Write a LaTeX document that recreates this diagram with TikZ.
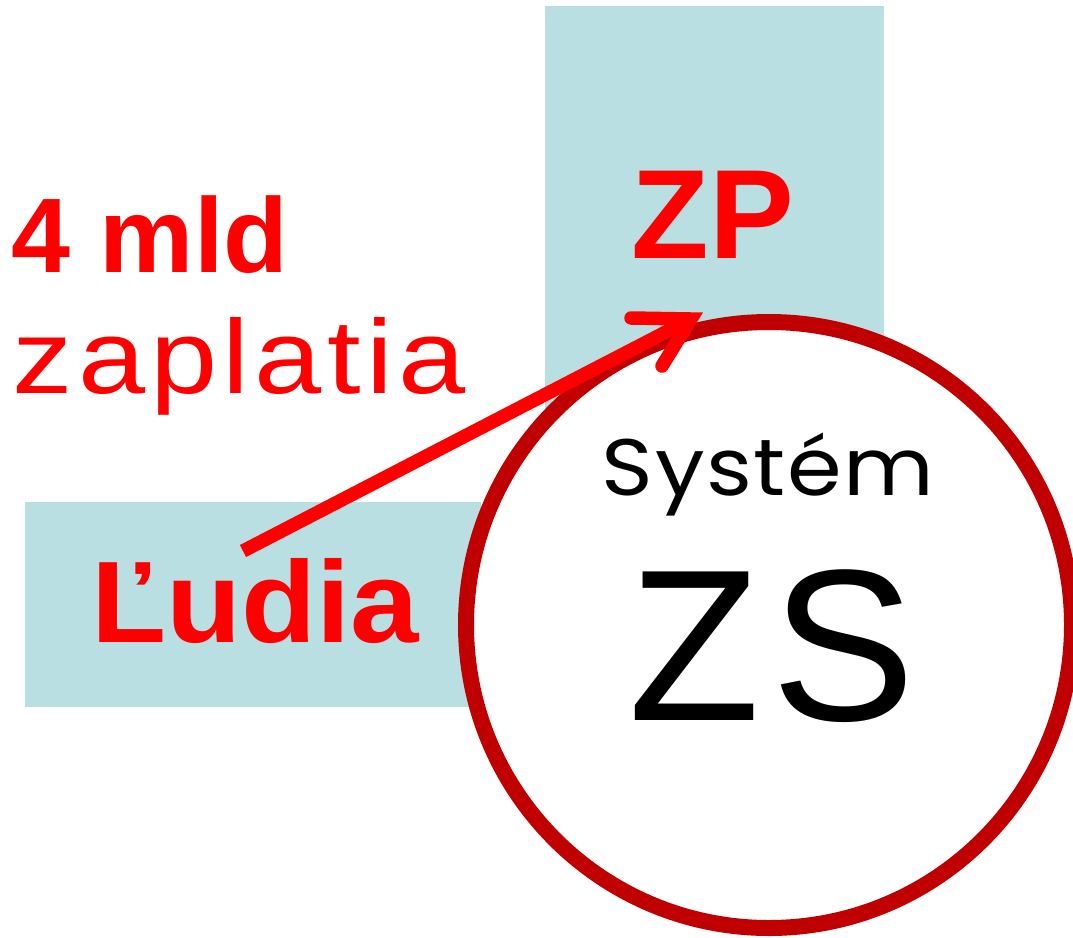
\documentclass[tikz,border=0pt]{standalone}
\usepackage{fontspec}
\setmainfont{Liberation Sans}
\newfontfamily\spacedfont[FakeStretch=1.15,LetterSpace=5]{Liberation Sans}
\newfontfamily\widebold[FakeStretch=1.06]{Liberation Sans Bold}
\newfontfamily\zsfont[LetterSpace=5]{Liberation Sans}
\newfontfamily\geofont[FakeStretch=1.1,LetterSpace=2]{Poppins}
\definecolor{tealbox}{RGB}{186,223,226}
\definecolor{circred}{RGB}{192,0,0}
\definecolor{brightred}{RGB}{255,0,0}
\begin{document}
\begin{tikzpicture}[x=1pt,y=-1pt,
  box/.style={fill=tealbox, draw=none, inner sep=0, outer sep=0, anchor=north west},
  lbl/.style={inner sep=0, outer sep=0, anchor=base, text=brightred},
  arrowline/.style={draw=brightred, line width=13.5pt}
]
\clip (0,0) rectangle (1073,937);
% teal boxes
\node[box, minimum width=339pt, minimum height=494pt] (zpbox) at (545,6) {};
\node[box, minimum width=456pt, minimum height=205pt] (ludiabox) at (25,502) {};
% circle
\node[circle, draw=circred, fill=white, line width=16pt, minimum size=606pt, inner sep=0] (zs) at (769,625) {};
% texts
\node[lbl] (mld) at (150,272) {\fontsize{106pt}{106pt}\selectfont\bfseries 4 mld};
\node[lbl] (zapl) at (239,393) {\fontsize{105pt}{105pt}\selectfont\spacedfont zaplatia};
\node[lbl] (zp) at (713,258) {\fontsize{127pt}{127pt}\selectfont\bfseries ZP};
\node[lbl] (ludia) at (255,642) {\fontsize{116pt}{116pt}\selectfont\widebold Ľudia};
\node[lbl, text=black] (sys) at (768,495) {\fontsize{80pt}{80pt}\selectfont\geofont Systém};
\node[lbl, text=black] (zstext) at (772,720) {\fontsize{216pt}{216pt}\selectfont\zsfont ZS};
% arrow
\coordinate (aS) at (243,551);
\coordinate (aT) at (691,319);
\coordinate (b1) at (631,318);
\coordinate (b2) at (662,366);
\draw[arrowline] (aS) -- (aT);
\draw[arrowline, line cap=round, line join=miter] (b1) -- (aT) -- (b2);
\end{tikzpicture}
\end{document}
